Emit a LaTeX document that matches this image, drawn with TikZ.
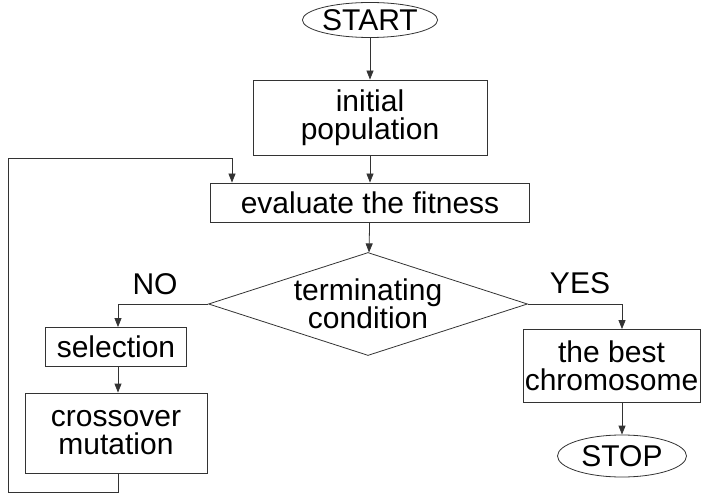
\documentclass[tikz,border=0pt]{standalone}
\usepackage{fontspec}
\setmainfont{Liberation Sans}
\usetikzlibrary{shapes.geometric,arrows.meta}
\begin{document}
\begin{tikzpicture}[x=1pt,y=-1pt,line width=.8pt,
    font=\fontsize{30}{28}\selectfont,
    block/.style={draw=black!80,rectangle,align=center,inner sep=0pt},
    term/.style={draw=black!80,ellipse,inner sep=0pt},
    decision/.style={draw=black!80,diamond,inner sep=0pt},
    flow/.style={draw=black!80,-{Triangle[length=9pt,width=7pt]}}]
        \useasboundingbox (0,0) rectangle (701,494);

        \node[term,minimum width=128pt,minimum height=35pt] at (370, 20) (start) {START};
        \node[block,minimum width=234pt,minimum height=75pt] at (370, 117.5) (init) {initial\\population};
        \node[block,minimum width=319pt,minimum height=39pt] at (370, 202.5) (eval) {evaluate the fitness};
        \node[decision,minimum width=319pt,minimum height=103pt,
              label={[align=center]center:terminating\\condition}] at (368, 304) (cond) {};

        \node at (155, 284) (no) {NO};
        \node[block,minimum width=141pt,minimum height=39pt] at (116, 347) (sel) {selection};
        \node[block,minimum width=182pt,minimum height=80pt] at (116, 433) (cross) {crossover\\mutation};

        \node at (580, 283) (yes) {YES};
        \node[block,minimum width=177pt,minimum height=73pt] at (611.5, 366) (best) {the best\\chromosome};
        \node[term,minimum width=129pt,minimum height=42pt] at (622, 456) (stop) {STOP};

        \coordinate (noturn) at (118, 304);
        \coordinate (yesturn) at (622, 304);
        \coordinate (l1) at (118, 492);
        \coordinate (l2) at (8, 492);
        \coordinate (l3) at (8, 158);
        \coordinate (l4) at (232, 158);

        \draw[flow] (start) -- (init);
        \draw[flow] (init) -- (eval);
        \draw[flow] (eval) -- (cond);
        \draw[flow] (cond.west) -- (noturn) -- (sel.north -| noturn);
        \draw[flow] (sel.south -| noturn) -- (cross.north -| noturn);
        \draw[flow] (cond.east) -- (yesturn) -- (best.north -| yesturn);
        \draw[flow] (best.south -| yesturn) -- (stop);
        \draw[flow] (cross.south -| l1) -- (l1) -- (l2) -- (l3) -- (l4) -- (eval.north -| l4);
    \end{tikzpicture}
\end{document}
